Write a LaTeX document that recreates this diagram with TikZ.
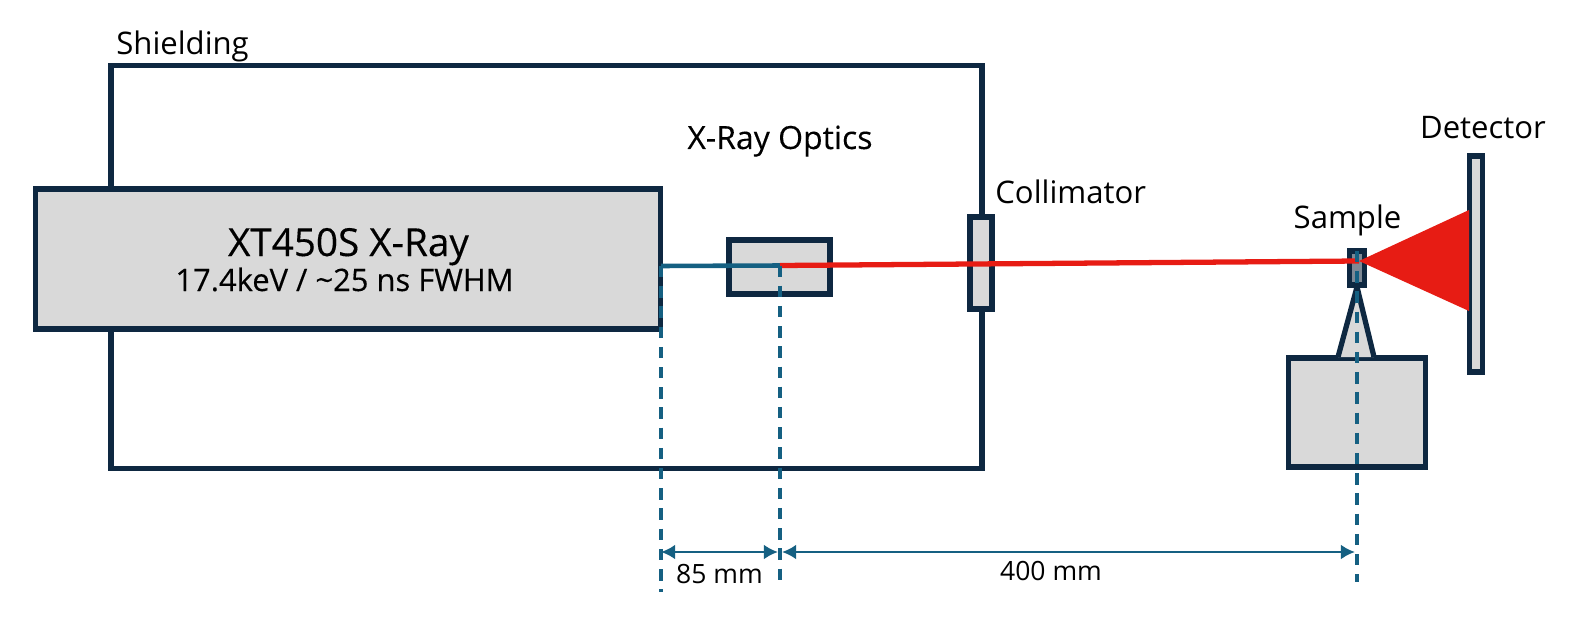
\documentclass[tikz,border=0pt]{standalone}
\usepackage{fontspec}
\setmainfont{Open Sans}
\usetikzlibrary{arrows.meta}

\definecolor{boxline}{HTML}{0E2841}
\definecolor{boxfill}{HTML}{D9D9D9}
\definecolor{dimline}{HTML}{156082}
\definecolor{beamred}{HTML}{E71C14}

\tikzset{
    part/.style={draw=boxline, fill=boxfill, line width=3pt, inner sep=0pt, outer sep=0pt},
    dimdash/.style={draw=dimline, line width=1.8pt, dash pattern=on 6.5pt off 5pt},
    dimarrow/.style={draw=dimline, line width=1.7pt, {Latex[length=8pt,width=8.5pt]}-{Latex[length=8pt,width=8.5pt]}},
    label/.style={inner sep=0pt, font=\fontsize{17.7}{21}\selectfont},
    dimlabel/.style={inner sep=0pt, font=\fontsize{15.1}{18}\selectfont},
}

\begin{document}
\begin{tikzpicture}[x=0.02cm, y=-0.02cm]
    \useasboundingbox (0,0) rectangle (1575,625);
    \node [part, fill=white, minimum width=17.42cm, minimum height=8.06cm] (shield) at (546.5,267) {};
    \node [part, minimum width=12.50cm, minimum height=2.80cm] (source) at (348,259) {};
    \node [part, minimum width=2.02cm, minimum height=1.08cm] (optics) at (779.5,267) {};
    \node [part, minimum width=0.44cm, minimum height=1.84cm] (collimator) at (981,263) {};
    \node [part, minimum width=0.26cm, minimum height=4.32cm] (detector) at (1476,264) {};
    \node [part, minimum width=2.74cm, minimum height=2.18cm] (stage) at (1357,412.5) {};
    \node [part, minimum width=0.30cm, minimum height=0.68cm, fill=boxline!45!boxfill] (sample) at (1357,268) {};

    % sample holder
    \coordinate (tip) at (1357,287);
    \coordinate (holdera) at (1338,357);
    \coordinate (holderb) at (1374,357);
    \draw [part, line join=round] (holdera) -- (tip) -- (holderb);

    % beam
    \coordinate (tubeexit) at (661,266);
    \coordinate (opticsexit) at (780,265.5);
    \coordinate (focus) at (1359,261);
    \coordinate (fana) at (1469,210);
    \coordinate (fanb) at (1469,311);
    \draw [dimline, line width=2.6pt] (tubeexit) -- (opticsexit);
    \draw [beamred, line width=3pt] (opticsexit) -- (focus);
    \fill [beamred] (focus) -- (fana) -- (fanb) -- cycle;

    % dimension lines
    \coordinate (dimaend) at (661,592);
    \coordinate (dimbend) at (780,588);
    \coordinate (dimctop) at (1357,251);
    \coordinate (dimcend) at (1357,582);
    \coordinate (dima) at (661,552);
    \coordinate (dimb) at (778,552);
    \coordinate (dimc) at (782,552);
    \coordinate (dimd) at (1355,552);
    \draw [dimdash] (tubeexit) -- (dimaend);
    \draw [dimdash] (opticsexit) -- (dimbend);
    \draw [dimdash] (dimctop) -- (dimcend);
    \draw [dimarrow] (dima) -- (dimb);
    \draw [dimarrow] (dimc) -- (dimd);

    % labels
    \node [label, anchor=base west] (shieldtext) at (116,55) {Shielding};
    \node [label, anchor=base, font=\fontsize{18.2}{21}\selectfont\addfontfeature{FakeBold=0.2}] (opticstext) at (780,149) {X-Ray Optics};
    \node [label, anchor=base west] (collimatortext) at (995,203) {Collimator};
    \node [label, anchor=base] (sampletext) at (1347.5,228) {Sample};
    \node [label, anchor=base] (detectortext) at (1483,138) {Detector};
    \node [inner sep=0pt, anchor=base, font=\fontsize{22}{26}\selectfont\addfontfeature{FakeBold=0.3}] (sourcetext) at (348.5,256) {XT450S X-Ray};
    \node [inner sep=0pt, anchor=base, font=\fontsize{17.6}{21}\selectfont\addfontfeature{FakeBold=0.3}] (sourcesub) at (344.5,291) {17.4keV / \textasciitilde25 ns FWHM};
    \node [dimlabel, anchor=base] (dimatext) at (719.5,583) {85 mm};
    \node [dimlabel, anchor=base] (dimctext) at (1051,580) {400 mm};
\end{tikzpicture}
\end{document}
